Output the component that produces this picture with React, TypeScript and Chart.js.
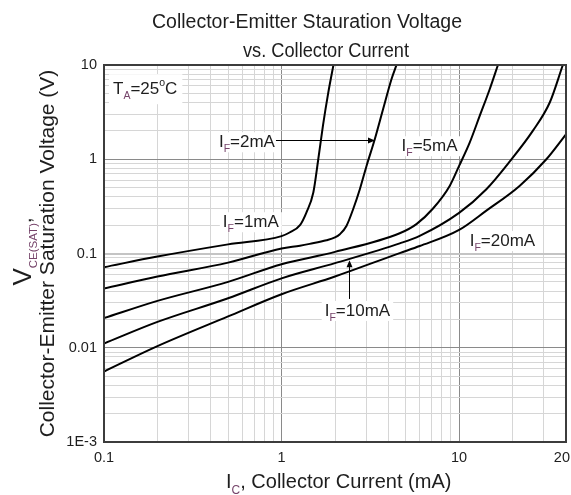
import { useEffect, useRef } from "react";
import { Chart, registerables } from "chart.js";

Chart.register(...registerables);

const FONT = '"Liberation Sans", Arial, Helvetica, sans-serif';
const INK = "#1e1e1e";
const SUB_INK = "#76446a";

// Collector current IC (mA) against VCE(SAT) (V), one curve per forward current IF
const ic1mA = [0.1, 0.2, 0.5, 1, 1.11, 1.27, 1.38, 1.51, 1.61, 1.71, 1.83, 1.96];
const vce1mA = [0.0715, 0.0928, 0.125, 0.153, 0.167, 0.2, 0.272, 0.443, 1.0, 2.26, 5.0, 10];

const ic2mA = [0.1, 0.2, 0.5, 1, 1.27, 1.44, 1.79, 2.0, 2.13, 2.32, 2.53, 2.76, 3.01, 3.35, 3.73, 4.16, 4.44];
const vce2mA = [0.0425, 0.0569, 0.08, 0.113, 0.121, 0.1265, 0.138, 0.148, 0.16, 0.196, 0.295, 0.481, 0.849, 1.63, 3.39, 7.06, 10];

const ic5mA = [0.1, 0.2, 0.5, 1, 2, 4.63, 5.75, 7.13, 8.85, 10, 11.47, 13.06, 14.87, 16.55];
const vce5mA = [0.0206, 0.0314, 0.05, 0.077, 0.104, 0.164, 0.205, 0.3, 0.521, 0.85, 1.5, 2.88, 5.53, 10];

const ic10mA = [0.1, 0.2, 0.5, 1, 2, 4.63, 6, 10, 14.24, 19.3, 26, 32.4, 38.4];
const vce10mA = [0.0111, 0.0188, 0.0335, 0.0545, 0.079, 0.128, 0.154, 0.27, 0.481, 0.95, 2.0, 4.0, 10];

const ic20mA = [0.1, 0.2, 0.5, 1, 2, 4.63, 6, 10, 14.24, 21.9, 31, 40];
const vce20mA = [0.0056, 0.0104, 0.0215, 0.037, 0.057, 0.101, 0.12, 0.178, 0.285, 0.521, 1.0, 1.84];

// Axis ranges and labelled ticks
const xMin = 0.1;
const xMax = 40;
const yMin = 0.001;
const yMax = 10;
const xTickValues = [0.1, 1, 10, 40];
const xTickLabels = ["0.1", "1", "10", "20"];
const yTickValues = [0.001, 0.01, 0.1, 1, 10];
const yTickLabels = ["1E-3", "0.01", "0.1", "1", "10"];
const gridSteps = [1, 2, 3, 4, 5, 6, 7, 8, 9];

// Curve captions: forward current, left edge and baseline in (IC, VCE)
const labelCurrents = ["1mA", "2mA", "5mA", "10mA", "20mA"];
const labelIc = [0.467, 0.444, 4.74, 1.75, 11.47];
const labelVce = [0.19, 1.34, 1.216, 0.02175, 0.12];

// Leader arrows: 2mA caption points right, 10mA caption points up
const arrow2mATip = { ic: 3.36, vce: 1.59 };
const arrow10mATip = { ic: 2.39, vce: 0.085 };

// Ambient temperature note
const ambientIc = 0.1124;
const ambientVce = 4.9;

const titleLines = ["Collector-Emitter Stauration Voltage", "vs. Collector Current"];

type Part = { t: string; size: number; dy?: number; color?: string };

function gridValues(min: number, max: number): number[] {
  const out: number[] = [];
  for (let d = min; d <= max * 1.0001; d *= 10) {
    for (const s of gridSteps) {
      const v = d * s;
      if (v <= max * 1.0001) out.push(v);
    }
  }
  return out;
}

const sameValue = (a: number, b: number) => Math.abs(Math.log10(a) - Math.log10(b)) < 1e-6;
const isDecade = (v: number) => Math.abs(Math.log10(v) - Math.round(Math.log10(v))) < 1e-6;

function richWidth(ctx: CanvasRenderingContext2D, parts: Part[]) {
  let w = 0;
  for (const p of parts) {
    ctx.font = `${p.size}px ${FONT}`;
    w += ctx.measureText(p.t).width;
  }
  return w;
}

function drawRich(ctx: CanvasRenderingContext2D, x: number, y: number, parts: Part[]) {
  let cx = x;
  ctx.textAlign = "left";
  ctx.textBaseline = "alphabetic";
  for (const p of parts) {
    ctx.font = `${p.size}px ${FONT}`;
    ctx.fillStyle = p.color ?? INK;
    ctx.fillText(p.t, cx, y + (p.dy ?? 0));
    cx += ctx.measureText(p.t).width;
  }
  return cx - x;
}

function ifParts(current: string): Part[] {
  return [
    { t: "I", size: 17 },
    { t: "F", size: 10.5, dy: 5, color: SUB_INK },
    { t: "=" + current, size: 17 },
  ];
}

function arrowHead(ctx: CanvasRenderingContext2D, tx: number, ty: number, dx: number, dy: number) {
  const len = 7;
  const half = 3;
  const bx = tx - dx * len;
  const by = ty - dy * len;
  ctx.beginPath();
  ctx.moveTo(tx, ty);
  ctx.lineTo(bx - dy * half, by + dx * half);
  ctx.lineTo(bx + dy * half, by - dx * half);
  ctx.closePath();
  ctx.fill();
}

const overlay = {
  id: "overlay",
  beforeDatasetsDraw(chart: any) {
    const { ctx } = chart;
    const x = chart.scales.x;
    const y = chart.scales.y;
    ctx.save();

    // ambient temperature note on a white card
    const tParts: Part[] = [
      { t: "T", size: 17 },
      { t: "A", size: 10.5, dy: 5, color: SUB_INK },
      { t: "=25", size: 17 },
      { t: "o", size: 10.5, dy: -8 },
      { t: "C", size: 17 },
    ];
    const ax = x.getPixelForValue(ambientIc);
    const ay = y.getPixelForValue(ambientVce);
    const aw = richWidth(ctx, tParts);
    ctx.fillStyle = "#ffffff";
    ctx.fillRect(ax - 4, ay - 20, aw + 9, 30);
    drawRich(ctx, ax, ay, tParts);

    // IF captions
    const ends: number[] = [];
    const tops: number[] = [];
    labelCurrents.forEach((cur, i) => {
      const parts = ifParts(cur);
      const lx = x.getPixelForValue(labelIc[i]);
      const ly = y.getPixelForValue(labelVce[i]);
      const w = richWidth(ctx, parts);
      ctx.fillStyle = "#ffffff";
      ctx.fillRect(lx - 3, ly - 15, w + 6, 20);
      drawRich(ctx, lx, ly, parts);
      ends.push(lx + w);
      tops.push(ly - 14);
    });

    ctx.strokeStyle = "#000000";
    ctx.fillStyle = "#000000";
    ctx.lineWidth = 1;

    // 2mA leader: horizontal, to the right
    const t2x = x.getPixelForValue(arrow2mATip.ic);
    const t2y = Math.round(y.getPixelForValue(arrow2mATip.vce)) + 0.5;
    ctx.beginPath();
    ctx.moveTo(ends[1] + 1, t2y);
    ctx.lineTo(t2x - 4, t2y);
    ctx.stroke();
    arrowHead(ctx, t2x, t2y, 1, 0);

    // 10mA leader: vertical, upwards
    const t10x = Math.round(x.getPixelForValue(arrow10mATip.ic)) + 0.5;
    const t10y = y.getPixelForValue(arrow10mATip.vce);
    ctx.beginPath();
    ctx.moveTo(t10x, tops[3] - 3);
    ctx.lineTo(t10x, t10y + 4);
    ctx.stroke();
    arrowHead(ctx, t10x, t10y, 0, -1);

    ctx.restore();
  },
  afterDatasetsDraw(chart: any) {
    const { ctx, chartArea } = chart;
    const x = chart.scales.x;
    ctx.save();

    // plot frame
    ctx.strokeStyle = "#3c3c3c";
    ctx.lineWidth = 2;
    ctx.strokeRect(chartArea.left, chartArea.top, chartArea.right - chartArea.left, chartArea.bottom - chartArea.top);

    // x tick labels, kept inside the canvas at the right end
    ctx.font = `14.5px ${FONT}`;
    ctx.fillStyle = INK;
    ctx.textAlign = "center";
    ctx.textBaseline = "middle";
    xTickValues.forEach((v, i) => {
      const w = ctx.measureText(xTickLabels[i]).width;
      const px = Math.min(x.getPixelForValue(v), chart.width - w / 2 - 1);
      ctx.fillText(xTickLabels[i], px, chartArea.bottom + 16);
    });

    // chart title
    ctx.font = `19.5px ${FONT}`;
    ctx.textBaseline = "alphabetic";
    ctx.fillText(titleLines[0], 307, 28);
    ctx.fillText(titleLines[1], 326, 56.5, 166);

    // x axis title
    drawRich(ctx, 226, 488, [
      { t: "I", size: 20 },
      { t: "C", size: 12, dy: 6, color: SUB_INK },
      { t: ", Collector Current (mA)", size: 20 },
    ]);

    // y axis title, two rotated lines
    const midY = (chartArea.top + chartArea.bottom) / 2;
    const line1: Part[] = [
      { t: "V", size: 26 },
      { t: "CE(SAT)", size: 11.5, dy: 6, color: SUB_INK },
      { t: ",", size: 20 },
    ];
    const line2: Part[] = [{ t: "Collector-Emitter Saturation Voltage (V)", size: 21 }];
    ctx.save();
    ctx.translate(31, midY - 2);
    ctx.rotate(-Math.PI / 2);
    drawRich(ctx, -richWidth(ctx, line1) / 2, 0, line1);
    ctx.restore();
    ctx.save();
    ctx.translate(54, midY);
    ctx.rotate(-Math.PI / 2);
    drawRich(ctx, -richWidth(ctx, line2) / 2, 0, line2);
    ctx.restore();

    ctx.restore();
  },
};

function gridColor(v: number, horizontal: boolean) {
  if (horizontal && sameValue(v, 0.1)) return "#c4c4c4";
  return isDecade(v) ? "#8a8a8a" : "#d6d6d6";
}

export default function App() {
  const canvasRef = useRef<HTMLCanvasElement | null>(null);

  useEffect(() => {
    const canvas = canvasRef.current;
    if (!canvas) return;

    const series = [
      { name: "IF=1mA", ic: ic1mA, vce: vce1mA },
      { name: "IF=2mA", ic: ic2mA, vce: vce2mA },
      { name: "IF=5mA", ic: ic5mA, vce: vce5mA },
      { name: "IF=10mA", ic: ic10mA, vce: vce10mA },
      { name: "IF=20mA", ic: ic20mA, vce: vce20mA },
    ];

    const chart = new Chart(canvas, {
      type: "line",
      data: {
        datasets: series.map((s) => ({
          label: s.name,
          data: s.ic.map((v, i) => ({ x: v, y: s.vce[i] })),
          borderColor: "#000000",
          borderWidth: 2,
          pointRadius: 0,
          fill: false,
          cubicInterpolationMode: "monotone" as const,
        })),
      },
      options: {
        animation: false,
        responsive: false,
        devicePixelRatio: 1,
        layout: { padding: { left: 0, top: 65, right: 5, bottom: 0 } },
        plugins: {
          legend: { display: false },
          tooltip: { enabled: false },
          title: { display: false },
        },
        scales: {
          x: {
            type: "logarithmic",
            min: xMin,
            max: xMax,
            afterBuildTicks: (s: any) => {
              s.ticks = gridValues(xMin, xMax).map((v) => ({ value: v }));
            },
            afterFit: (s: any) => {
              s.height = 53;
              s.paddingLeft = 0;
              s.paddingRight = 0;
            },
            ticks: { display: false, autoSkip: false },
            grid: {
              drawTicks: false,
              color: (c: any) => gridColor(c.tick.value, false),
              lineWidth: 1,
            },
            border: { display: false },
          },
          y: {
            type: "logarithmic",
            min: yMin,
            max: yMax,
            afterBuildTicks: (s: any) => {
              s.ticks = gridValues(yMin, yMax).map((v) => ({ value: v }));
            },
            afterFit: (s: any) => {
              s.width = 104;
              s.paddingTop = 0;
              s.paddingBottom = 0;
            },
            ticks: {
              autoSkip: false,
              padding: 7,
              color: INK,
              font: { family: FONT, size: 14.5 },
              callback: (v: any) => {
                const i = yTickValues.findIndex((t) => sameValue(t, Number(v)));
                return i >= 0 ? yTickLabels[i] : "";
              },
            },
            grid: {
              drawTicks: false,
              color: (c: any) => gridColor(c.tick.value, true),
              lineWidth: (c: any) => (sameValue(c.tick.value, 0.1) ? 2 : 1),
            },
            border: { display: false },
          },
        },
      },
      plugins: [overlay],
    });

    return () => chart.destroy();
  }, []);

  return (
    <div style={{ position: "absolute", left: 0, top: 0, width: 571, height: 495, background: "#ffffff" }}>
      <canvas ref={canvasRef} width={571} height={495} style={{ display: "block" }} />
    </div>
  );
}
